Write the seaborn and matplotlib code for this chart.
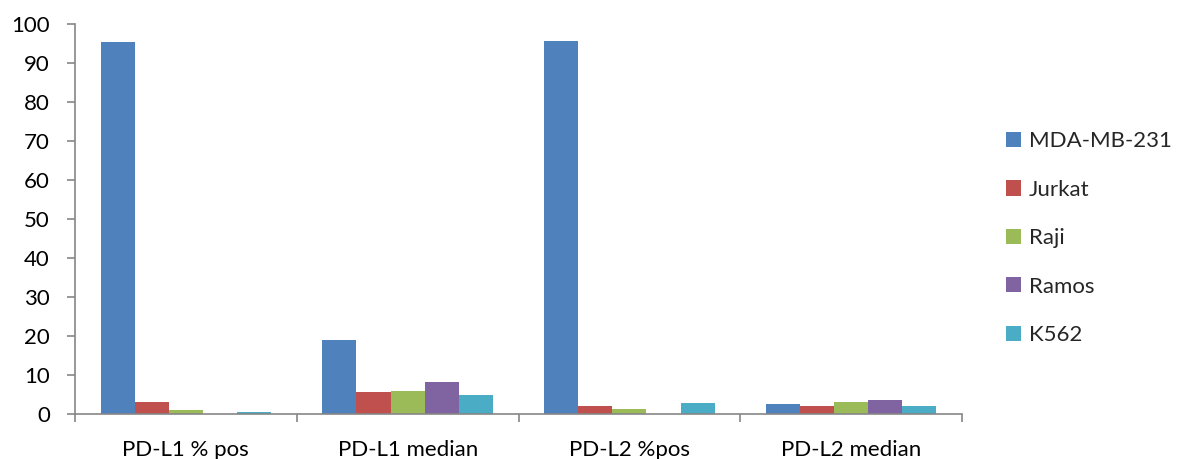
import matplotlib
matplotlib.use("Agg")
import matplotlib.pyplot as plt
import seaborn as sns
import pandas as pd
from matplotlib.ticker import FixedLocator

categories = ["PD-L1 % pos", "PD-L1 median", "PD-L2 %pos", "PD-L2 median"]
cell_lines = ["MDA-MB-231", "Jurkat", "Raji", "Ramos", "K562"]
mda = [95.4, 19.0, 95.6, 2.5]
jurkat = [3.2, 5.7, 2.1, 2.0]
raji = [1.1, 6.0, 1.4, 3.1]
ramos = [0.0, 8.1, 0.0, 3.5]
k562 = [0.4, 5.0, 2.7, 2.0]
colors = ["#4F81BD", "#C0504D", "#9BBB59", "#8064A2", "#4BACC6"]

series = [mda, jurkat, raji, ramos, k562]
rows = []
for name, vals in zip(cell_lines, series):
    for cat, v in zip(categories, vals):
        rows.append({"category": cat, "cell": name, "value": v})
df = pd.DataFrame(rows)

sns.set_theme(style="white")
plt.rcParams["font.family"] = ["Lato", "DejaVu Sans"]

fig = plt.figure(figsize=(11.83, 4.59), dpi=100)
ax = fig.add_axes([75/1183, 45/459, (962-75)/1183, (414-24)/459])

sns.barplot(data=df, x="category", y="value", hue="cell", order=categories,
            hue_order=cell_lines, palette=colors, width=0.77, gap=0,
            saturation=1, ax=ax, legend=True, linewidth=0, edgecolor="none")

ax.set_xlim(-0.5, 3.5)
ax.set_ylim(0, 100)
ax.set_yticks(range(0, 101, 10))
ax.set_xlabel("")
ax.set_ylabel("")
for s in ["top", "right"]:
    ax.spines[s].set_visible(False)
for s in ["left", "bottom"]:
    ax.spines[s].set_color("#868686")
    ax.spines[s].set_linewidth(1.2)

ax.xaxis.set_minor_locator(FixedLocator([-0.5, 0.5, 1.5, 2.5, 3.5]))
ax.tick_params(axis="x", which="major", length=0, pad=19, labelsize=16, labelcolor="black")
ax.tick_params(axis="x", which="minor", length=6, width=1.2, color="#868686", direction="out", bottom=True)
ax.tick_params(axis="y", which="major", length=6, width=1.2, color="#868686", direction="out",
               left=True, pad=12, labelsize=16, labelcolor="black")

handles, labels = ax.get_legend_handles_labels()
leg = ax.legend(handles, labels, loc="center left", bbox_to_anchor=(1.027, 0.451),
                frameon=False, fontsize=16, handlelength=0.68, handleheight=0.68,
                labelspacing=1.28, handletextpad=0.35)

fig.savefig("out.png", dpi=100)
